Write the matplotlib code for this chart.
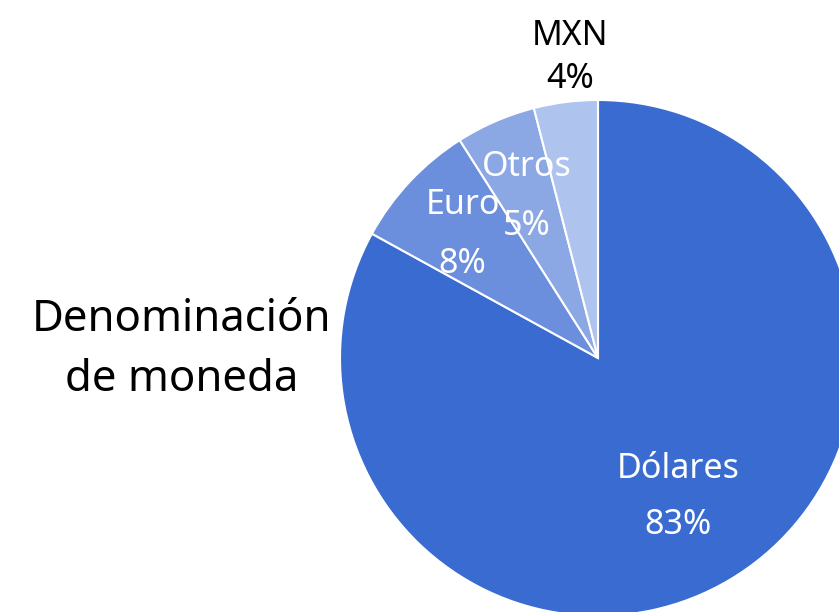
import numpy as np
import matplotlib.pyplot as plt

plt.rcParams['font.family'] = ['Noto Sans', 'DejaVu Sans']

categories = ["Dólares", "Euro", "Otros", "MXN"]
shares = [83, 8, 5, 4]
colors = ["#3a6bd1", "#6b8fdc", "#8ca8e4", "#aec3ee"]
title = "Denominación\nde moneda"

fig = plt.figure(figsize=(8.39, 6.12), dpi=100)
W, H = 839, 612
cx, cy, r = 598, 358, 258
ax = fig.add_axes([(cx - r) / W, (H - cy - r) / H, 2 * r / W, 2 * r / H])
wedges, _ = ax.pie(shares, colors=colors, startangle=90, counterclock=False,
                   radius=1, wedgeprops=dict(edgecolor="white", linewidth=1.5))
ax.set_xlim(-1, 1)
ax.set_ylim(-1, 1)
ax.set_aspect("equal")
ax.axis("off")

# label placement along each wedge's mid angle (Excel-like best fit)
label_dist = [0.61, 0.72, 0.70, 1.19]
gaps = [0.108, 0.114, 0.114, 0.083]
nudge_x = [0, 0, 0, 0.04]
for w, name, val, d, g, nx in zip(wedges, categories, shares, label_dist, gaps, nudge_x):
    mid = np.deg2rad((w.theta1 + w.theta2) / 2)
    x, y = d * np.cos(mid) + nx, d * np.sin(mid) - 0.015
    col = "black" if d > 1 else "white"
    ax.text(x, y + g, name, ha="center", va="center", color=col, fontsize=24.5, clip_on=False)
    ax.text(x, y - g, f"{val}%", ha="center", va="center", color=col, fontsize=24.5, clip_on=False)

fig.text(182 / W, 1 - 350 / H, title, ha="center", va="center", fontsize=31.5,
         multialignment="center", linespacing=1.5)

fig.savefig("out.png", dpi=100)
